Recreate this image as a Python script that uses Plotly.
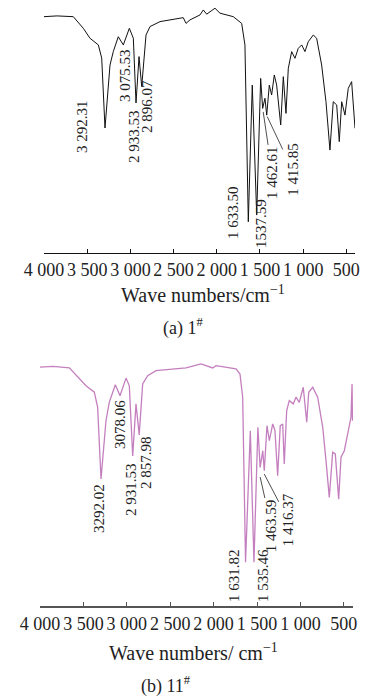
import plotly.graph_objects as go

# ---------------- data ----------------
# Sample 1#: wavenumber (cm^-1) and transmittance (%)
wn_a = [4000, 3850, 3661, 3545, 3468, 3371, 3332, 3294, 3236, 3198, 3140, 3082, 3012,
        2966, 2935, 2900, 2869, 2819, 2773, 2657, 2388, 2356, 2310, 2194, 2156, 2117,
        2021, 1963, 1809, 1712, 1674, 1635, 1589, 1538, 1492, 1469, 1442, 1422, 1392,
        1365, 1334, 1307, 1260, 1230, 1199, 1172, 1133, 1095, 1057, 1017, 979, 941,
        883, 844, 786, 736, 690, 652, 612, 582, 554, 516, 478, 439, 400]
t_a = [95.3, 95.6, 95.3, 90.6, 86.6, 83.9, 78.6, 50.4, 75.8, 81.2, 87.2, 83.9, 90.6,
       86.6, 60.5, 79.2, 67.1, 87.9, 91.3, 93.3, 94.9, 92.6, 94.0, 96.0, 98.0, 96.3,
       98.7, 96.7, 95.3, 92.6, 83.9, 12.6, 67.7, 15.3, 70.4, 58.3, 62.4, 55.6, 67.7,
       63.7, 71.8, 67.7, 51.6, 71.1, 56.3, 74.5, 81.2, 78.5, 82.5, 83.9, 81.2, 85.2,
       87.9, 86.6, 75.8, 61.0, 41.5, 61.0, 59.7, 44.9, 61.0, 55.6, 66.4, 69.1, 50.3]

# Sample 11#
wn_b = [4000, 3850, 3662, 3547, 3470, 3374, 3336, 3297, 3240, 3202, 3132, 3078, 3009,
        2971, 2932, 2894, 2857, 2817, 2759, 2664, 2318, 2145, 2010, 1972, 1780, 1742,
        1696, 1665, 1632, 1577, 1535, 1490, 1464, 1434, 1416, 1385, 1358, 1319, 1293,
        1262, 1232, 1204, 1186, 1158, 1128, 1082, 1051, 1013, 967, 927, 904, 858, 801,
        743, 705, 667, 628, 598, 559, 532, 494, 455, 417, 405, 400]
t_b = [96.3, 96.6, 96.0, 91.5, 88.8, 86.2, 80.1, 51.2, 74.7, 82.1, 89.2, 84.8, 91.9,
       88.8, 60.5, 81.5, 69.0, 89.5, 92.9, 94.9, 96.0, 97.6, 96.0, 96.9, 96.0, 95.6,
       93.5, 84.2, 17.6, 70.7, 17.6, 72.1, 55.9, 62.6, 54.6, 72.7, 66.7, 73.4, 70.7,
       52.5, 72.7, 73.4, 57.3, 78.8, 82.8, 81.5, 84.2, 82.1, 88.2, 74.1, 86.2, 88.2,
       84.2, 72.1, 58.6, 43.8, 62.0, 61.3, 43.1, 60.0, 62.6, 69.4, 76.1, 89.5, 74.7]

tick_vals = [4000, 3500, 3000, 2500, 2000, 1500, 1000, 500]
tick_text = ["4 000", "3 500", "3 000", "2 500", "2 000", "1 500", "1 000", "500"]

# peak labels: (text, label x in cm^-1, label y in %)
labels_a = [("3 292.31", 3560, 50.8), ("3 075.53", 3063, 71.8), ("2 933.53", 2958, 46.8),
            ("2 896.07", 2808, 59.3), ("1 633.50", 1812, 16.1), ("1537.59", 1488, 11.7)]
# labels with leader line: (text, peak x, peak y, text dx px, text dy px)
leaders_a = [("1 462.61", 1462.61, 56.9, 9, 61), ("1 415.85", 1415.85, 55.0, 25, 53)]
labels_b = [("3292.02", 3320, 39.1), ("3078.06", 3078, 73.0), ("2 931.53", 2952, 47.2),
            ("2 857.98", 2779, 58.1), ("1 631.82", 1765, 12.1), ("1 535.46", 1431, 12.5)]
leaders_b = [("1 463.59", 1463.59, 52.0, 11, 49), ("1 416.37", 1416.37, 53.2, 24, 46)]

# ---------------- figure ----------------
W, H = 368, 698
SERIF = "Liberation Serif, Times New Roman, serif"
TXT = "#222222"

fig = go.Figure()
fig.add_trace(go.Scatter(x=wn_a, y=t_a, mode="lines", xaxis="x", yaxis="y",
                         line=dict(color="#111111", width=1), showlegend=False))
fig.add_trace(go.Scatter(x=wn_b, y=t_b, mode="lines", xaxis="x2", yaxis="y2",
                         line=dict(color="#c47fbf", width=1.3), showlegend=False))

def py(p):
    return 1 - p / H

xcommon = dict(tickvals=tick_vals, ticktext=tick_text, ticks="inside", ticklen=4,
               showline=True, showgrid=False, zeroline=False,
               tickfont=dict(family=SERIF, size=18, color=TXT))
fig.update_layout(
    width=W, height=H, margin=dict(l=0, r=0, t=0, b=0, autoexpand=False),
    paper_bgcolor="white", plot_bgcolor="white",
    xaxis=dict(domain=[44 / W, 355 / W], range=[4000, 400], anchor="y",
               linecolor="#111111", linewidth=1, tickcolor="#111111", **xcommon),
    yaxis=dict(domain=[py(253), py(5)], range=[0, 100], visible=False),
    xaxis2=dict(domain=[40 / W, 353 / W], range=[4000, 394], anchor="y2",
                linecolor="#555555", linewidth=2, tickcolor="#555555", **xcommon),
    yaxis2=dict(domain=[py(606), py(358)], range=[0, 100], visible=False),
)

anns = []
def peak_labels(lst, xr, yr):
    for txt, x, y in lst:
        anns.append(dict(x=x, y=y, xref=xr, yref=yr, text=txt, textangle=-90,
                         showarrow=False, font=dict(family=SERIF, size=15, color=TXT)))

def leader_labels(lst, xr, yr):
    for txt, x, y, ax, ay in lst:
        anns.append(dict(x=x, y=y, xref=xr, yref=yr, text=txt, textangle=-90,
                         showarrow=True, arrowhead=0, arrowwidth=0.8, arrowcolor=TXT,
                         ax=ax, ay=ay, font=dict(family=SERIF, size=15, color=TXT)))

peak_labels(labels_a, "x", "y")
leader_labels(leaders_a, "x", "y")
peak_labels(labels_b, "x2", "y2")
leader_labels(leaders_b, "x2", "y2")

def caption(txt, px, pyy, size):
    anns.append(dict(x=px / W, y=py(pyy), xref="paper", yref="paper", text=txt,
                     showarrow=False, xanchor="center", yanchor="middle",
                     font=dict(family=SERIF, size=size, color=TXT)))

caption("Wave numbers/cm<sup>−1</sup>", 203, 294, 20)
caption("(a) 1<sup>#</sup>", 183, 327, 18)
caption("Wave numbers/ cm<sup>−1</sup>", 193, 652, 20)
caption("(b) 11<sup>#</sup>", 166, 685, 18)

fig.update_layout(annotations=anns)
fig.write_html("out.html", config={"displayModeBar": False},
               post_script="document.body.style.margin='0';document.body.style.overflow='hidden';")
